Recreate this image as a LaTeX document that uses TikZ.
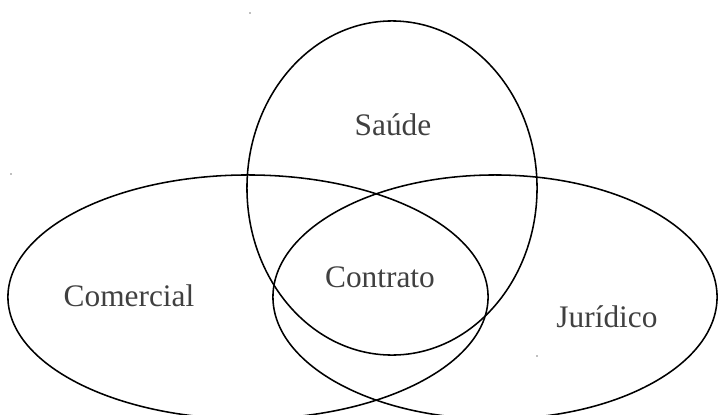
\documentclass[tikz,border=0pt]{standalone}
\usepackage{fontspec}
\setmainfont{Liberation Serif}
\usepackage{tikz}
\usetikzlibrary{shapes.geometric}
\definecolor{labelgray}{HTML}{404040}

\begin{document}
\begin{tikzpicture}[x=0.025cm,y=-0.025cm,
  set/.style={draw,ellipse,line width=1.1pt,inner sep=0pt},
  lbl/.style={anchor=base,text=labelgray,font=\fontsize{22.3}{26}\selectfont},
  speck/.style={circle,fill=gray,inner sep=0pt,minimum size=1.3pt}]

\clip (0,0) rectangle (720,414);

\node[set,minimum width=12cm,minimum height=6.1cm] (comercial) at (248,297) {};
\node[set,minimum width=11.1cm,minimum height=6.1cm] (juridico) at (495,297) {};
\node[set,minimum width=7.25cm,minimum height=8.35cm] (saude) at (392,188) {};

\node[lbl] (tsaude) at (393,135) {Saúde};
\node[lbl] (tcontrato) at (380,287) {Contrato};
\node[lbl] (tcomercial) at (129,306) {Comercial};
\node[lbl] (tjuridico) at (607,327) {Jurídico};

\node[speck] (s1) at (250,13) {};
\node[speck] (s2) at (11,174) {};
\node[speck] (s3) at (537,356) {};
\node[speck] (s4) at (558,325) {};
\end{tikzpicture}
\end{document}
